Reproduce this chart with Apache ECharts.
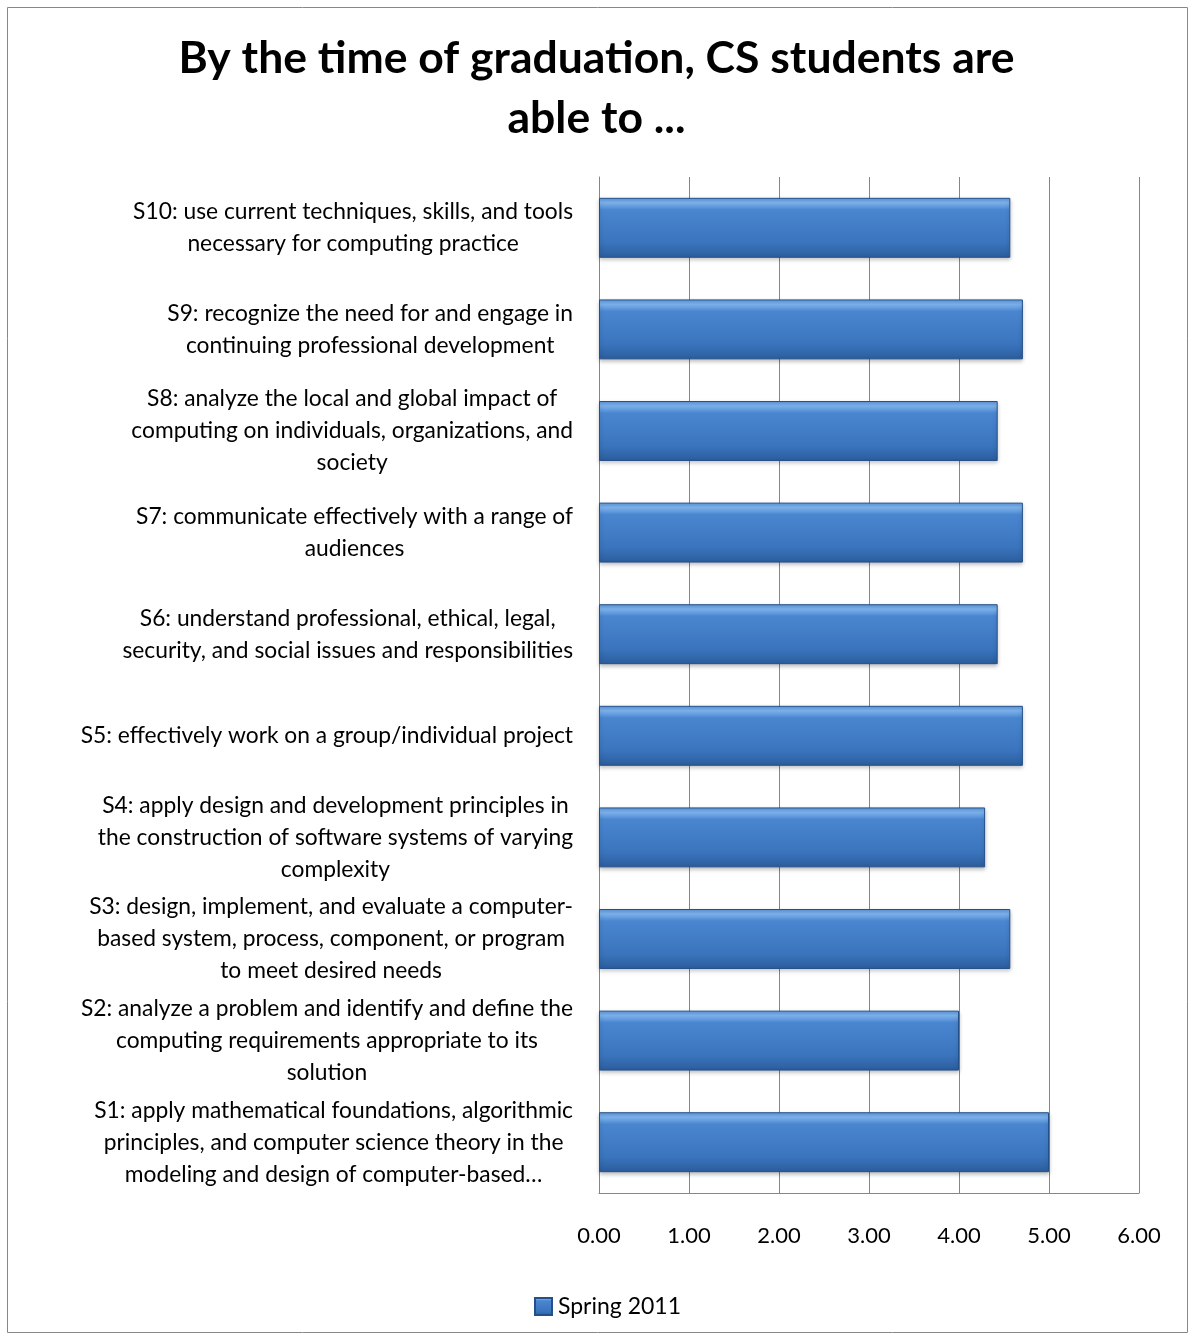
<!DOCTYPE html>
<html>
<head>
<meta charset="utf-8">
<script src="https://cdn.jsdelivr.net/npm/echarts@6/dist/echarts.min.js"></script>
<style>
    html, body { margin: 0; padding: 0; background: #fff; }
    #chart { width: 1193px; height: 1339px; }
</style>
</head>
<body>
<div id="chart"></div>
<script>
// categories, bottom to top (S1 is drawn at the bottom)
var categories = [
    'S1: apply mathematical foundations, algorithmic\nprinciples, and computer science theory in the\nmodeling and design of computer-based…',
    'S2: analyze a problem and identify and define the\ncomputing requirements appropriate to its\nsolution',
    'S3: design, implement, and evaluate a computer-\nbased system, process, component, or program\nto meet desired needs',
    'S4: apply design and development principles in\nthe construction of software systems of varying\ncomplexity',
    'S5: effectively work on a group/individual project',
    'S6: understand professional, ethical, legal,\nsecurity, and social issues and responsibilities',
    'S7: communicate effectively with a range of\naudiences',
    'S8: analyze the local and global impact of\ncomputing on individuals, organizations, and\nsociety',
    'S9: recognize the need for and engage in\ncontinuing professional development',
    'S10: use current techniques, skills, and tools\nnecessary for computing practice'
];
var spring2011 = [5.00, 4.00, 4.57, 4.29, 4.71, 4.43, 4.71, 4.43, 4.71, 4.57];
var xTicks = [0, 1, 2, 3, 4, 5, 6];

var font = 'Lato, "Liberation Sans", sans-serif';

var barColor = new echarts.graphic.LinearGradient(0, 0, 0, 1, [
    { offset: 0, color: '#5b96dc' },
    { offset: 0.08, color: '#7fb4ee' },
    { offset: 0.2, color: '#4a86d0' },
    { offset: 0.75, color: '#3a74bd' },
    { offset: 1, color: '#2b5d9c' }
]);

var option = {
    animation: false,
    textStyle: { fontFamily: font },
    title: {
        text: 'By the time of graduation, CS students are\nable to ...',
        left: 'center',
        top: 24,
        textStyle: {
            fontFamily: font,
            fontSize: 44.5,
            fontWeight: 'bold',
            color: '#000',
            lineHeight: 60
        }
    },
    graphic: [{
        type: 'rect',
        shape: { x: 7.5, y: 7.5, width: 1180, height: 1325 },
        style: { fill: 'none', stroke: '#888', lineWidth: 1 }
    }],
    legend: {
        data: [{ name: 'Spring 2011', icon: 'rect' }],
        top: 1290,
        left: 529,
        itemWidth: 17,
        itemHeight: 17,
        itemGap: 4,
        textStyle: { fontFamily: font, fontSize: 23, color: '#000', padding: [0, 0, 0, 1] }
    },
    grid: {
        left: 599,
        right: 54,
        top: 177,
        bottom: 146,
        containLabel: false
    },
    xAxis: {
        type: 'value',
        min: xTicks[0],
        max: xTicks[xTicks.length - 1],
        interval: 1,
        axisLine: { show: true, lineStyle: { color: '#868686', width: 1 } },
        axisTick: { show: false },
        splitLine: { show: true, lineStyle: { color: '#868686', width: 1 } },
        axisLabel: {
            margin: 32,
            fontSize: 22,
            color: '#000',
            fontFamily: font,
            formatter: function (v) { return v.toFixed(2); }
        }
    },
    yAxis: {
        type: 'category',
        data: categories,
        axisLine: { show: true, lineStyle: { color: '#868686', width: 1 } },
        axisTick: { show: false },
        axisLabel: {
            margin: 26,
            align: 'right',
            interval: 0,
            formatter: function (v) {
                return v.split('\n').map(function (s) { return '{c|' + s + '}'; }).join('\n');
            },
            rich: {
                c: {
                    align: 'center',
                    fontSize: 22.8,
                    lineHeight: 32,
                    color: '#000',
                    fontFamily: font
                }
            }
        }
    },
    series: [{
        name: 'Spring 2011',
        type: 'bar',
        data: spring2011,
        barCategoryGap: '41%',
        itemStyle: {
            color: barColor,
            borderColor: '#24508a',
            borderWidth: 1,
            shadowColor: 'rgba(0,0,0,0.25)',
            shadowBlur: 4,
            shadowOffsetY: 2
        }
    }]
};

var chart = echarts.init(document.getElementById('chart'));
chart.setOption(option);
</script>
</body>
</html>
